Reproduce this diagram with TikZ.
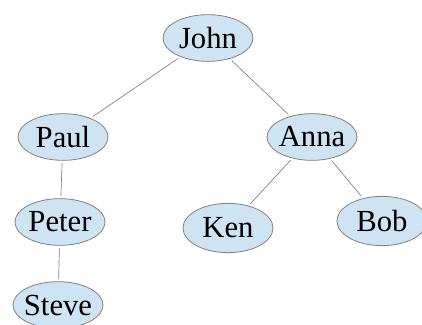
\documentclass[tikz,border=0pt]{standalone}
\usepackage{fontspec}
\setmainfont{Liberation Serif}
\usepackage{tikz}
\usetikzlibrary{shapes.geometric,positioning}
\definecolor{nodefill}{RGB}{207,228,243}
\definecolor{nodeline}{RGB}{128,128,128}

\begin{document}
\begin{tikzpicture}[x=0.75pt,y=-0.75pt,
  person/.style={ellipse,draw=nodeline,fill=nodefill,line width=0.6pt,inner sep=-10pt,
    minimum width=67.5pt,minimum height=35pt,outer sep=2pt,font=\fontsize{23}{27}\selectfont},
  link/.style={draw=nodeline,line width=0.5pt}]
\useasboundingbox (0,0) rectangle (422,325);
\node[person] (john)  at (208,38)  {John};
\node[person] (paul)  at (63,137)  {Paul};
\node[person] (peter) at (60,222)  {Peter};
\node[person] (steve) at (58,305)  {Steve};
\node[person] (anna)  at (312,137) {Anna};
\node[person,minimum height=37pt] (ken) at (228,228) {Ken};
\node[person,minimum height=37pt] (bob) at (382,221) {Bob};
\draw[link] (john) -- (paul);
\draw[link] (john) -- (anna);
\draw[link] (paul) -- (peter);
\draw[link] (peter) -- (steve);
\draw[link] (anna) -- (ken);
\draw[link] (anna) -- (bob);
\end{tikzpicture}
\end{document}
